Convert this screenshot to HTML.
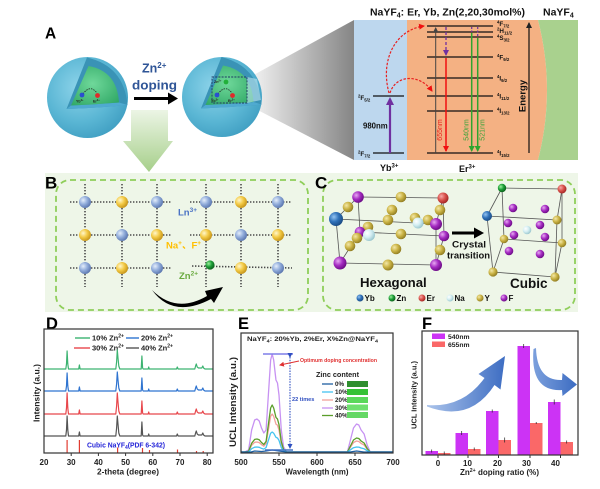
<!DOCTYPE html>
<html><head><meta charset="utf-8"><style>
html,body{margin:0;padding:0;background:#fff;}
svg{display:block;font-family:"Liberation Sans","Noto Sans CJK SC",sans-serif;font-weight:bold;}
</style></head><body>
<svg width="600" height="489" viewBox="0 0 600 489" xmlns="http://www.w3.org/2000/svg">
<defs>
<radialGradient id="sph" cx="0.4" cy="0.38" r="0.7"><stop offset="0" stop-color="#8ed4ea"/><stop offset="0.6" stop-color="#5ab6d4"/><stop offset="1" stop-color="#3d9cc0"/></radialGradient>
<radialGradient id="core" cx="0.45" cy="0.45" r="0.7"><stop offset="0" stop-color="#6fd89a"/><stop offset="1" stop-color="#30a866"/></radialGradient>
<linearGradient id="cone" x1="250" y1="0" x2="354" y2="0" gradientUnits="userSpaceOnUse"><stop offset="0" stop-color="#f4f4f4"/><stop offset="1" stop-color="#858585"/></linearGradient>
<linearGradient id="garrow" x1="0" y1="108" x2="0" y2="172" gradientUnits="userSpaceOnUse"><stop offset="0" stop-color="#eef6e8"/><stop offset="1" stop-color="#a6cf8a"/></linearGradient>
<linearGradient id="barrow1" x1="428" y1="0" x2="506" y2="0" gradientUnits="userSpaceOnUse"><stop offset="0" stop-color="#a9c2ea"/><stop offset="1" stop-color="#3c6cc2"/></linearGradient>
<linearGradient id="barrow2" x1="534" y1="0" x2="577" y2="0" gradientUnits="userSpaceOnUse"><stop offset="0" stop-color="#7b9fdc"/><stop offset="1" stop-color="#3c6cc2"/></linearGradient>
<radialGradient id="gB" cx="0.35" cy="0.35" r="0.7"><stop offset="0" stop-color="#e4eefb"/><stop offset="0.5" stop-color="#92addb"/><stop offset="1" stop-color="#5874ad"/></radialGradient>
<radialGradient id="gY" cx="0.35" cy="0.35" r="0.7"><stop offset="0" stop-color="#fff7cc"/><stop offset="0.5" stop-color="#f3ca45"/><stop offset="1" stop-color="#c39218"/></radialGradient>
<radialGradient id="gG" cx="0.35" cy="0.35" r="0.7"><stop offset="0" stop-color="#9cf09c"/><stop offset="0.5" stop-color="#1d9e38"/><stop offset="1" stop-color="#0a5c18"/></radialGradient>
<radialGradient id="gP" cx="0.35" cy="0.35" r="0.7"><stop offset="0" stop-color="#e7a8f2"/><stop offset="0.5" stop-color="#a52cc2"/><stop offset="1" stop-color="#690a82"/></radialGradient>
<radialGradient id="gO" cx="0.35" cy="0.35" r="0.7"><stop offset="0" stop-color="#f3e8a8"/><stop offset="0.5" stop-color="#cbb446"/><stop offset="1" stop-color="#8e7a20"/></radialGradient>
<radialGradient id="gR" cx="0.35" cy="0.35" r="0.7"><stop offset="0" stop-color="#f7a8a8"/><stop offset="0.5" stop-color="#d9534c"/><stop offset="1" stop-color="#a02222"/></radialGradient>
<radialGradient id="gYb" cx="0.35" cy="0.35" r="0.7"><stop offset="0" stop-color="#94c4f2"/><stop offset="0.5" stop-color="#2f71b9"/><stop offset="1" stop-color="#1a4a82"/></radialGradient>
<radialGradient id="gNa" cx="0.35" cy="0.35" r="0.7"><stop offset="0" stop-color="#ffffff"/><stop offset="0.5" stop-color="#d4eef2"/><stop offset="1" stop-color="#97c4cc"/></radialGradient>
<marker id="mK" markerWidth="6" markerHeight="6" refX="5" refY="3" orient="auto" markerUnits="userSpaceOnUse"><path d="M0,0 L6,3 L0,6 Z" fill="#222"/></marker>
<marker id="mGy" markerWidth="5" markerHeight="5" refX="4" refY="2.5" orient="auto" markerUnits="userSpaceOnUse"><path d="M0,0 L5,2.5 L0,5 Z" fill="#444"/></marker>
<marker id="mR" markerWidth="6" markerHeight="6" refX="5" refY="3" orient="auto" markerUnits="userSpaceOnUse"><path d="M0,0 L6,3 L0,6 Z" fill="#f01010"/></marker>
<marker id="mGn" markerWidth="6" markerHeight="6" refX="5" refY="3" orient="auto" markerUnits="userSpaceOnUse"><path d="M0,0 L6,3 L0,6 Z" fill="#2fa52f"/></marker>
<marker id="mP" markerWidth="6" markerHeight="6" refX="5" refY="3" orient="auto" markerUnits="userSpaceOnUse"><path d="M0,0 L6,3 L0,6 Z" fill="#7030a0"/></marker>
<marker id="mPb" markerWidth="8" markerHeight="8" refX="6" refY="4" orient="auto" markerUnits="userSpaceOnUse"><path d="M0,0 L8,4 L0,8 Z" fill="#7030a0"/></marker>
<marker id="mBl" markerWidth="5" markerHeight="5" refX="4" refY="2.5" orient="auto" markerUnits="userSpaceOnUse"><path d="M0,0 L5,2.5 L0,5 Z" fill="#2f4fc0"/></marker>
<marker id="mRs" markerWidth="5" markerHeight="5" refX="4" refY="2.5" orient="auto" markerUnits="userSpaceOnUse"><path d="M0,0 L5,2.5 L0,5 Z" fill="#e03030"/></marker>
</defs>

<!-- ============ PANEL A ============ -->
<text x="45" y="38.5" font-size="15.5" fill="#000">A</text>

<polygon points="250,77 354,20 354,160 250,106" fill="url(#cone)"/>

<!-- sphere 1 -->
<circle cx="87.5" cy="97.5" r="40.5" fill="url(#sph)"/>
<path d="M87,57.5 L66.5,109 Q97,108 127.5,105 Q124,66 87,57.5 Z" fill="#3a93b6"/>
<path d="M66.5,109 L71,105.5 Q95,104.5 119,102.5 L127.5,105 Q97,108 66.5,109 Z" fill="#4faad0"/>
<path d="M88.5,66 L71,105.5 Q95,104.5 119,102.5 Q117,71 88.5,66 Z" fill="url(#core)"/>
<path d="M83,94 Q90,84 97,93" fill="none" stroke="#222" stroke-width="0.8" stroke-dasharray="1.5,1"/>
<circle cx="82" cy="95" r="2.4" fill="#2a4fd0"/>
<circle cx="97.5" cy="95.5" r="2.4" fill="#e02a2a"/>
<text x="76" y="102.5" font-size="3.6" fill="#222">Yb<tspan font-size="2.6" dy="-1.3">3+</tspan></text>
<text x="93" y="102.5" font-size="3.6" fill="#222">Er<tspan font-size="2.6" dy="-1.3">3+</tspan></text>

<text x="142" y="72.5" font-size="12.5" fill="#2f5597">Zn<tspan font-size="8" dy="-4.5">2+</tspan></text>
<text x="132" y="89.5" font-size="13" fill="#2f5597" textLength="45" lengthAdjust="spacingAndGlyphs">doping</text>
<line x1="134" y1="98.5" x2="170" y2="98.5" stroke="#000" stroke-width="3"/>
<polygon points="168,92.5 178,98.5 168,104.5" fill="#000"/>

<polygon points="131,110 168,110 168,141 173,141 149,172 123,141 131,141" fill="url(#garrow)"/>

<!-- sphere 2 -->
<circle cx="222" cy="97" r="40" fill="url(#sph)"/>
<path d="M221.5,57 L201,108.5 Q231,107.5 261.5,104.5 Q258,66 221.5,57 Z" fill="#3a93b6"/>
<path d="M201,108.5 L205.5,105 Q229.5,104 253.5,102 L261.5,104.5 Q231,107.5 201,108.5 Z" fill="#4faad0"/>
<path d="M223,65.5 L205.5,105 Q229.5,104 253.5,102 Q251.5,70.5 223,65.5 Z" fill="url(#core)"/>
<polygon points="247,77 257,79 261,100 247,103" fill="#bfe6f0" opacity="0.6"/>
<rect x="212" y="77" width="35" height="26" fill="none" stroke="#1f3864" stroke-width="0.9" stroke-dasharray="2,1.2"/>
<text x="214" y="83" font-size="3.6" fill="#222">Zn<tspan font-size="2.6" dy="-1.3">2+</tspan></text>
<circle cx="226" cy="82" r="2.4" fill="#22b03a"/>
<path d="M218,94 Q225,84 232,93" fill="none" stroke="#222" stroke-width="0.8" stroke-dasharray="1.5,1"/>
<circle cx="217" cy="95" r="2.4" fill="#2a4fd0"/>
<circle cx="232.5" cy="95.5" r="2.4" fill="#e02a2a"/>
<text x="211" y="102" font-size="3.6" fill="#222">Yb<tspan font-size="2.6" dy="-1.3">3+</tspan></text>
<text x="228" y="102" font-size="3.6" fill="#222">Er<tspan font-size="2.6" dy="-1.3">3+</tspan></text>

<!-- energy diagram -->
<text x="370" y="15.5" font-size="10.4" fill="#111" textLength="155" lengthAdjust="spacingAndGlyphs">NaYF<tspan font-size="7" dy="2">4</tspan><tspan dy="-2">: Er, Yb, Zn(2,20,30mol%)</tspan></text>
<text x="543" y="15.5" font-size="10.5" fill="#111">NaYF<tspan font-size="7" dy="2">4</tspan></text>
<rect x="354" y="20" width="53" height="140" fill="#bdd7ee"/>
<path d="M407,20 L538,20 Q556,90 538,160 L407,160 Z" fill="#f4b183"/>
<path d="M538,20 L578,20 L578,160 L538,160 Q556,90 538,20 Z" fill="#a9d18e"/>

<line x1="373" y1="96" x2="404" y2="96" stroke="#111" stroke-width="1.3"/>
<line x1="373" y1="153" x2="404" y2="153" stroke="#111" stroke-width="1.3"/>
<text x="358" y="100" font-size="6.3" fill="#111"><tspan font-size="4.3" dy="-2.3">2</tspan><tspan dy="2.3">F</tspan><tspan font-size="4.3" dy="1.5">5/2</tspan></text>
<text x="358" y="156" font-size="6.3" fill="#111"><tspan font-size="4.3" dy="-2.3">2</tspan><tspan dy="2.3">F</tspan><tspan font-size="4.3" dy="1.5">7/2</tspan></text>
<line x1="390" y1="153" x2="390" y2="99" stroke="#7030a0" stroke-width="2.2" marker-end="url(#mPb)"/>
<text x="363" y="128.5" font-size="7.8" fill="#111">980nm</text>

<g stroke="#111" stroke-width="1.3">
<line x1="427" y1="26" x2="493" y2="26"/>
<line x1="427" y1="32" x2="493" y2="32"/>
<line x1="427" y1="37" x2="493" y2="37"/>
<line x1="427" y1="57" x2="493" y2="57"/>
<line x1="427" y1="78" x2="493" y2="78"/>
<line x1="427" y1="96" x2="493" y2="96"/>
<line x1="427" y1="111" x2="493" y2="111"/>
<line x1="427" y1="153" x2="493" y2="153"/>
</g>
<g font-size="6.3" fill="#111">
<text x="497" y="26"><tspan font-size="4.3" dy="-2.3">4</tspan><tspan dy="2.3">F</tspan><tspan font-size="4.3" dy="1.5">7/2</tspan></text>
<text x="497" y="33"><tspan font-size="4.3" dy="-2.3">2</tspan><tspan dy="2.3">H</tspan><tspan font-size="4.3" dy="1.5">11/2</tspan></text>
<text x="497" y="40"><tspan font-size="4.3" dy="-2.3">4</tspan><tspan dy="2.3">S</tspan><tspan font-size="4.3" dy="1.5">3/2</tspan></text>
<text x="497" y="59.5"><tspan font-size="4.3" dy="-2.3">4</tspan><tspan dy="2.3">F</tspan><tspan font-size="4.3" dy="1.5">9/2</tspan></text>
<text x="497" y="80.5"><tspan font-size="4.3" dy="-2.3">4</tspan><tspan dy="2.3">I</tspan><tspan font-size="4.3" dy="1.5">9/2</tspan></text>
<text x="497" y="98.5"><tspan font-size="4.3" dy="-2.3">4</tspan><tspan dy="2.3">I</tspan><tspan font-size="4.3" dy="1.5">11/2</tspan></text>
<text x="497" y="113"><tspan font-size="4.3" dy="-2.3">4</tspan><tspan dy="2.3">I</tspan><tspan font-size="4.3" dy="1.5">13/2</tspan></text>
<text x="497" y="155.5"><tspan font-size="4.3" dy="-2.3">4</tspan><tspan dy="2.3">I</tspan><tspan font-size="4.3" dy="1.5">15/2</tspan></text>
</g>
<line x1="435.7" y1="153" x2="435.7" y2="28" stroke="#444" stroke-width="1" marker-end="url(#mGy)"/>
<line x1="446" y1="27" x2="446" y2="55" stroke="#7030a0" stroke-width="1.3" stroke-dasharray="3,2" marker-end="url(#mP)"/>
<line x1="446" y1="58" x2="446" y2="151" stroke="#f01010" stroke-width="1.5" marker-end="url(#mR)"/>
<line x1="471.7" y1="27" x2="471.7" y2="32" stroke="#7030a0" stroke-width="1.2" stroke-dasharray="2,1.5"/>
<line x1="477.7" y1="27" x2="477.7" y2="36" stroke="#7030a0" stroke-width="1.2" stroke-dasharray="2,1.5"/>
<line x1="471.7" y1="33" x2="471.7" y2="151" stroke="#2fa52f" stroke-width="1.5" marker-end="url(#mGn)"/>
<line x1="477.7" y1="38" x2="477.7" y2="151" stroke="#2fa52f" stroke-width="1.5" marker-end="url(#mGn)"/>
<text transform="translate(442,130) rotate(-90)" text-anchor="middle" font-size="7" font-weight="normal" fill="#e8201a">655nm</text>
<text transform="translate(468.5,130) rotate(-90)" text-anchor="middle" font-size="7" font-weight="normal" fill="#3aa23a">540nm</text>
<text transform="translate(484.5,130) rotate(-90)" text-anchor="middle" font-size="7" font-weight="normal" fill="#3aa23a">521nm</text>
<path d="M389,93 C380,60 395,30 424,26" fill="none" stroke="#e82020" stroke-width="1.2" stroke-dasharray="2.5,1.5" marker-end="url(#mR)"/>
<path d="M390,93 C396,74 420,74 432,91" fill="none" stroke="#e82020" stroke-width="1.2" stroke-dasharray="2.5,1.5" marker-end="url(#mR)"/>
<line x1="529" y1="153" x2="529" y2="23" stroke="#111" stroke-width="1.2" marker-end="url(#mK)"/>
<text transform="translate(525.5,96) rotate(-90)" text-anchor="middle" font-size="9.5" fill="#111">Energy</text>
<text x="380" y="171" font-size="9" fill="#111">Yb<tspan font-size="6" dy="-3.5">3+</tspan></text>
<text x="459" y="172" font-size="9" fill="#111">Er<tspan font-size="6" dy="-3.5">3+</tspan></text>

<!-- ============ PANELS B & C ============ -->
<rect x="45" y="173" width="533" height="139" fill="#eef6e8"/>
<rect x="56" y="180" width="252" height="130" rx="14" fill="none" stroke="#8fce5a" stroke-width="1.8" stroke-dasharray="6,4"/>
<rect x="323" y="180" width="252" height="130" rx="14" fill="none" stroke="#8fce5a" stroke-width="1.8" stroke-dasharray="6,4"/>
<text x="45" y="188.5" font-size="17" fill="#000">B</text>
<text x="315" y="188.5" font-size="17" fill="#000">C</text>

<g stroke="#4a4a4a" stroke-width="1.6" stroke-dasharray="1.4,1.6">
<line x1="70" y1="202" x2="172" y2="202"/><line x1="70" y1="235" x2="172" y2="235"/><line x1="70" y1="268" x2="172" y2="268"/>
<line x1="190" y1="202" x2="292" y2="202"/><line x1="190" y1="235" x2="292" y2="235"/><line x1="192" y1="266" x2="292" y2="268"/>
<line x1="85" y1="184" x2="85" y2="287"/><line x1="122" y1="184" x2="122" y2="287"/><line x1="157" y1="184" x2="157" y2="287"/>
<line x1="206" y1="184" x2="206" y2="287"/><line x1="241" y1="184" x2="241" y2="287"/><line x1="278" y1="184" x2="278" y2="287"/>
</g>
<g>
<circle cx="85" cy="202" r="6" fill="url(#gB)"/><circle cx="122" cy="202" r="6" fill="url(#gY)"/><circle cx="157" cy="202" r="6" fill="url(#gB)"/>
<circle cx="206" cy="202" r="6" fill="url(#gB)"/><circle cx="241" cy="202" r="6" fill="url(#gY)"/><circle cx="278" cy="202" r="6" fill="url(#gB)"/>
<circle cx="85" cy="235" r="6" fill="url(#gY)"/><circle cx="122" cy="235" r="6" fill="url(#gB)"/><circle cx="157" cy="235" r="6" fill="url(#gY)"/>
<circle cx="206" cy="235" r="6" fill="url(#gY)"/><circle cx="241" cy="235" r="6" fill="url(#gB)"/><circle cx="278" cy="235" r="6" fill="url(#gY)"/>
<circle cx="85" cy="268" r="6" fill="url(#gB)"/><circle cx="122" cy="268" r="6" fill="url(#gY)"/><circle cx="157" cy="268" r="6" fill="url(#gB)"/>
<circle cx="210" cy="265" r="4.6" fill="url(#gG)"/><circle cx="241" cy="268" r="6" fill="url(#gY)"/><circle cx="278" cy="268" r="6" fill="url(#gB)"/>
</g>
<text x="178" y="215.5" font-size="9.5" fill="#4a72c4">Ln<tspan font-size="6.5" dy="-3.5">3+</tspan></text>
<text x="166" y="248.5" font-size="9.5" fill="#ffbf00">Na<tspan font-size="6.5" dy="-3.5">+</tspan><tspan dy="3.5">、F</tspan><tspan font-size="6.5" dy="-3.5">+</tspan></text>
<text x="179" y="279" font-size="9.5" fill="#6aaa40">Zn<tspan font-size="6.5" dy="-3.5">2+</tspan></text>
<path d="M152,290 Q176,314 207,296 L205,291 L223,287 L214,303 L211,299 Q173,319 152,290 Z" fill="#000"/>

<g stroke="#555" stroke-width="0.8" fill="none">
<line x1="358" y1="197" x2="443" y2="198"/>
<line x1="358" y1="197" x2="336" y2="219"/>
<line x1="336" y1="219" x2="436" y2="224"/>
<line x1="443" y1="198" x2="436" y2="224"/>
<line x1="336" y1="219" x2="340" y2="263"/>
<line x1="436" y1="224" x2="436" y2="265"/>
<line x1="340" y1="263" x2="436" y2="265"/>
<line x1="358" y1="197" x2="360" y2="232"/>
<line x1="443" y1="198" x2="444" y2="236"/>
<line x1="360" y1="232" x2="444" y2="236"/>
<line x1="360" y1="232" x2="340" y2="263"/>
<line x1="444" y1="236" x2="436" y2="265"/>
</g>
<g>
<circle cx="358" cy="197" r="5.8" fill="url(#gP)"/>
<circle cx="401" cy="197" r="5.3" fill="url(#gO)"/>
<circle cx="443" cy="198" r="5.5" fill="url(#gR)"/>
<circle cx="348" cy="207" r="5.3" fill="url(#gO)"/>
<circle cx="392" cy="210" r="5.3" fill="url(#gO)"/>
<circle cx="440" cy="210" r="5.3" fill="url(#gO)"/>
<circle cx="388" cy="220" r="5.3" fill="url(#gO)"/>
<circle cx="415" cy="218" r="5.3" fill="url(#gO)"/>
<circle cx="428" cy="220" r="5.3" fill="url(#gO)"/>
<circle cx="418" cy="223" r="5.5" fill="url(#gNa)"/>
<circle cx="336" cy="219" r="7" fill="url(#gYb)"/>
<circle cx="436" cy="224" r="6" fill="url(#gP)"/>
<circle cx="368" cy="227" r="5.3" fill="url(#gO)"/>
<circle cx="360" cy="232" r="5.3" fill="url(#gP)"/>
<circle cx="401" cy="234" r="5.3" fill="url(#gO)"/>
<circle cx="444" cy="236" r="5.3" fill="url(#gP)"/>
<circle cx="369" cy="235" r="6" fill="url(#gNa)"/>
<circle cx="357" cy="238" r="5.3" fill="url(#gO)"/>
<circle cx="350" cy="246" r="5.3" fill="url(#gO)"/>
<circle cx="396" cy="249" r="5.3" fill="url(#gO)"/>
<circle cx="440" cy="250" r="5.3" fill="url(#gO)"/>
<circle cx="340" cy="263" r="6.5" fill="url(#gP)"/>
<circle cx="388" cy="265" r="5.5" fill="url(#gO)"/>
<circle cx="436" cy="265" r="6" fill="url(#gP)"/>
</g>
<line x1="452" y1="233" x2="476" y2="233" stroke="#000" stroke-width="3"/>
<polygon points="474,227.5 484,233 474,238.5" fill="#000"/>
<text x="452" y="247.5" font-size="8.8" fill="#111" textLength="34" lengthAdjust="spacingAndGlyphs">Crystal</text>
<text x="447" y="258.5" font-size="8.8" fill="#111" textLength="43" lengthAdjust="spacingAndGlyphs">transition</text>

<g stroke="#555" stroke-width="0.8" fill="none">
<line x1="502" y1="188" x2="562" y2="189"/>
<line x1="487" y1="216" x2="502" y2="188"/>
<line x1="487" y1="216" x2="557" y2="220"/>
<line x1="562" y1="189" x2="557" y2="220"/>
<line x1="562" y1="189" x2="562" y2="243"/>
<line x1="502" y1="188" x2="504" y2="239"/>
<line x1="504" y1="239" x2="562" y2="243"/>
<line x1="487" y1="216" x2="493" y2="272"/>
<line x1="557" y1="220" x2="555" y2="277"/>
<line x1="493" y1="272" x2="555" y2="277"/>
<line x1="504" y1="239" x2="493" y2="272"/>
<line x1="562" y1="243" x2="555" y2="277"/>
</g>
<g>
<circle cx="502" cy="188" r="4.2" fill="url(#gG)"/>
<circle cx="562" cy="189" r="4.5" fill="url(#gR)"/>
<circle cx="513" cy="208" r="4.3" fill="url(#gP)"/>
<circle cx="545" cy="209" r="4.3" fill="url(#gP)"/>
<circle cx="504" cy="239" r="4.3" fill="url(#gO)"/>
<circle cx="562" cy="243" r="4.3" fill="url(#gO)"/>
<circle cx="487" cy="216" r="5" fill="url(#gYb)"/>
<circle cx="557" cy="220" r="4.5" fill="url(#gO)"/>
<circle cx="508" cy="223" r="4.3" fill="url(#gP)"/>
<circle cx="540" cy="225" r="4.3" fill="url(#gP)"/>
<circle cx="527" cy="230" r="4.3" fill="url(#gNa)"/>
<circle cx="514" cy="235" r="4.3" fill="url(#gP)"/>
<circle cx="545" cy="237" r="4.3" fill="url(#gP)"/>
<circle cx="509" cy="251" r="4.3" fill="url(#gP)"/>
<circle cx="540" cy="254" r="4.3" fill="url(#gP)"/>
<circle cx="493" cy="272" r="4.6" fill="url(#gO)"/>
<circle cx="555" cy="277" r="4.6" fill="url(#gO)"/>
</g>
<text x="360" y="287" font-size="13.2" fill="#111">Hexagonal</text>
<text x="510" y="288" font-size="13.5" fill="#111">Cubic</text>
<g font-size="8" fill="#111">
<circle cx="360" cy="298" r="3.5" fill="url(#gYb)"/><text x="364.5" y="301">Yb</text>
<circle cx="392" cy="298" r="3.5" fill="url(#gG)"/><text x="396.5" y="301">Zn</text>
<circle cx="422" cy="298" r="3.5" fill="url(#gR)"/><text x="426.5" y="301">Er</text>
<circle cx="450" cy="298" r="3.5" fill="url(#gNa)"/><text x="454.5" y="301">Na</text>
<circle cx="480" cy="298" r="3.5" fill="url(#gO)"/><text x="484.5" y="301">Y</text>
<circle cx="504" cy="298" r="3.5" fill="url(#gP)"/><text x="508.5" y="301">F</text>
</g>

<!-- ============ PANEL D ============ -->
<text x="46" y="329" font-size="16.5" fill="#000">D</text>
<g font-size="7.5" fill="#222">
<line x1="75" y1="338" x2="90" y2="338" stroke="#3cb371" stroke-width="1.4"/><text x="92" y="340.5">10% Zn<tspan font-size="5" dy="-3">2+</tspan></text>
<line x1="126" y1="338" x2="139" y2="338" stroke="#2f74d0" stroke-width="1.4"/><text x="141" y="340.5">20% Zn<tspan font-size="5" dy="-3">2+</tspan></text>
<line x1="74" y1="348" x2="90" y2="348" stroke="#e8474c" stroke-width="1.4"/><text x="92" y="350.5">30% Zn<tspan font-size="5" dy="-3">2+</tspan></text>
<line x1="126" y1="348" x2="139" y2="348" stroke="#555" stroke-width="1.4"/><text x="141" y="350.5">40% Zn<tspan font-size="5" dy="-3">2+</tspan></text>
</g>
<g fill="none" stroke-width="1.2" stroke-linejoin="round">
<path transform="translate(0,369)" stroke="#3cb371" d="M44,0 L65.8,0 L66.5,-5 L67.1,-18 L67.8,-5 L68.5,0 L78.7,0 L79.4,-4 L80.1,0 L115.8,0 L116.6,-7 L117.3,-19 L118,-11 L118.8,-3 L119.8,0 L141.2,0 L141.9,-13 L142.6,-1 L143.2,0 L148.2,0 L148.7,-2 L149.3,0 L176.5,0 L177.3,-2 L178.1,0 L194.8,0 L195.6,-3 L196.3,-5 L197.2,-2 L198.5,-1 L201.8,-1 L202.8,-3 L203.6,-1 L205,0 L213,0"/>
<path transform="translate(0,391)" stroke="#2f74d0" d="M44,0 L65.8,0 L66.5,-5 L67.1,-18 L67.8,-5 L68.5,0 L78.7,0 L79.4,-4 L80.1,0 L115.8,0 L116.6,-7 L117.3,-19 L118,-11 L118.8,-3 L119.8,0 L141.2,0 L141.9,-13 L142.6,-1 L143.2,0 L148.2,0 L148.7,-2 L149.3,0 L176.5,0 L177.3,-2 L178.1,0 L194.8,0 L195.6,-3 L196.3,-5 L197.2,-2 L198.5,-1 L201.8,-1 L202.8,-3 L203.6,-1 L205,0 L213,0"/>
<path transform="translate(0,414)" stroke="#e8474c" d="M44,0 L65.8,0 L66.5,-6 L67.1,-21 L67.8,-6 L68.5,0 L78.7,0 L79.4,-4 L80.1,0 L115.8,0 L116.6,-8 L117.3,-21 L118,-12 L118.8,-3 L119.8,0 L141.2,0 L141.9,-13 L142.6,-1 L143.2,0 L148.2,0 L148.7,-2 L149.3,0 L176.5,0 L177.3,-2 L178.1,0 L194.8,0 L195.6,-3 L196.3,-5 L197.2,-2 L198.5,-1 L201.8,-1 L202.8,-3 L203.6,-1 L205,0 L213,0"/>
<path transform="translate(0,436)" stroke="#555555" d="M44,0 L65.8,0 L66.5,-6 L67.1,-20 L67.8,-6 L68.5,0 L78.7,0 L79.4,-4 L80.1,0 L115.8,0 L116.6,-8 L117.3,-20 L118,-12 L118.8,-3 L119.8,0 L141.2,0 L141.9,-14 L142.6,-1 L143.2,0 L148.2,0 L148.7,-2 L149.3,0 L176.5,0 L177.3,-2 L178.1,0 L194.8,0 L195.6,-3 L196.3,-5 L197.2,-2 L198.5,-1 L201.8,-1 L202.8,-3 L203.6,-1 L205,0 L213,0"/>
</g>
<g stroke="#e03c31" stroke-width="1.2">
<line x1="67.1" y1="453" x2="67.1" y2="440"/><line x1="79.4" y1="453" x2="79.4" y2="440"/>
<line x1="117.6" y1="453" x2="117.6" y2="447.5"/><line x1="142.5" y1="453" x2="142.5" y2="448"/>
<line x1="149.5" y1="453" x2="149.5" y2="450"/><line x1="177.5" y1="453" x2="177.5" y2="449.5"/>
<line x1="196.5" y1="453" x2="196.5" y2="451"/><line x1="203.2" y1="453" x2="203.2" y2="451"/>
</g>
<text x="87" y="447.5" font-size="7.2" fill="#2424d8" textLength="78" lengthAdjust="spacingAndGlyphs">Cubic NaYF<tspan font-size="5" dy="1.5">4</tspan><tspan dy="-1.5">(PDF 6-342)</tspan></text>
<rect x="44" y="329" width="169" height="124" fill="none" stroke="#333" stroke-width="1.2"/>
<g stroke="#333" stroke-width="1">
<line x1="71.2" y1="453" x2="71.2" y2="456"/><line x1="98.4" y1="453" x2="98.4" y2="456"/><line x1="125.6" y1="453" x2="125.6" y2="456"/><line x1="152.8" y1="453" x2="152.8" y2="456"/><line x1="180" y1="453" x2="180" y2="456"/><line x1="207.2" y1="453" x2="207.2" y2="456"/>
</g>
<g font-size="8" fill="#222" text-anchor="middle">
<text x="44" y="465">20</text><text x="71.2" y="465">30</text><text x="98.4" y="465">40</text><text x="125.6" y="465">50</text><text x="152.8" y="465">60</text><text x="180" y="465">70</text><text x="207.2" y="465">80</text>
</g>
<text x="128" y="474.5" font-size="8.5" fill="#222" text-anchor="middle" textLength="62" lengthAdjust="spacingAndGlyphs">2-theta (degree)</text>
<text transform="translate(39.5,393) rotate(-90)" font-size="8" fill="#222" text-anchor="middle" textLength="58" lengthAdjust="spacingAndGlyphs">Intensity (a.u.)</text>

<!-- ============ PANEL E ============ -->
<text x="238" y="329" font-size="16.5" fill="#000">E</text>
<text x="247" y="341" font-size="6.8" fill="#222" textLength="131" lengthAdjust="spacingAndGlyphs">NaYF<tspan font-size="4.8" dy="1.5">4</tspan><tspan dy="-1.5">: 20%Yb, 2%Er, X%Zn@NaYF</tspan><tspan font-size="4.8" dy="1.5">4</tspan></text>
<g fill="none" stroke-width="1.3" stroke-linejoin="round">
<polyline stroke="#c792f2" points="241,452 244.8,452 248.6,450 251.64,430 254.68,420 256.96,419 259.24,421 261.52,428 263.8,433 266.08,430 268.36,395 270.64,360 272.16,354 273.68,360 275.96,380 277.48,383 279,395 281.28,430 283.56,447 286.6,452 347.4,452 350.44,440 353.48,428 356.52,424 358.8,425 361.08,430 364.12,434 367.16,445 370.2,452 393,452"/>
<polyline stroke="#f2a09c" points="241,452 244.8,452 248.6,451.4 251.64,445.3 254.68,442.3 256.96,442 259.24,442.6 261.52,444.7 263.8,446.2 266.08,443.5 268.36,430 270.64,416.3 272.16,414 273.68,416.3 275.96,424.1 277.48,425.2 279,430 281.28,443.5 283.56,450.1 286.6,452 347.4,452 350.44,447.3 353.48,442.6 356.52,441 358.8,441.5 361.08,443.4 364.12,445 367.16,449.3 370.2,452 393,452"/>
<polyline stroke="#5a9e2a" points="241,452 244.8,452 248.6,451.2 251.64,443.3 254.68,439.4 256.96,439 259.24,439.8 261.52,442.5 263.8,444.5 266.08,441.4 268.36,424.6 270.64,408 272.16,405 273.68,408 275.96,417.4 277.48,419 279,424.6 281.28,441.4 283.56,449.6 286.6,452 347.4,452 350.44,446 353.48,440 356.52,438 358.8,438.5 361.08,441 364.12,443 367.16,448.5 370.2,452 393,452"/>
<polyline stroke="#45c4f0" points="241,452 248.6,452 251.64,448.7 254.68,447.2 256.96,447 259.24,447.3 261.52,448.4 263.8,449.1 266.08,447.5 268.36,440.4 270.64,433.2 272.16,432 273.68,433.2 275.96,437.3 277.48,438 279,440.4 281.28,447.5 283.56,451 286.6,452 347.4,452 350.44,449.8 353.48,447.7 356.52,447 358.8,447.1 361.08,448 364.12,448.8 367.16,450.7 370.2,452 393,452"/>
<polyline stroke="#1f5fa0" points="241,452 251,452 254.68,451 261.52,451.5 266.08,451 272.16,450 279,451 286.6,452 350,452 356.52,451 364,452 393,452"/>
</g>
<line x1="263" y1="354" x2="293" y2="354" stroke="#7f7fe8" stroke-width="1.5"/>
<line x1="265" y1="450" x2="293" y2="450" stroke="#4472c4" stroke-width="1.5"/>
<line x1="290" y1="357" x2="290" y2="448" stroke="#2f4fc0" stroke-width="1.1" stroke-dasharray="1.5,1.2" marker-start="url(#mBl)" marker-end="url(#mBl)"/>
<text x="292" y="401" font-size="5.6" fill="#2f4fc0">22 times</text>
<line x1="299" y1="361" x2="280" y2="365" stroke="#e03030" stroke-width="0.9" marker-end="url(#mRs)"/>
<text x="300" y="362" font-size="5.5" fill="#e03030" textLength="77" lengthAdjust="spacingAndGlyphs">Optimum doping concentration</text>
<text x="316" y="377" font-size="7" fill="#222" textLength="43" lengthAdjust="spacingAndGlyphs">Zinc content</text>
<g font-size="6.3" fill="#222">
<line x1="322" y1="384" x2="333" y2="384" stroke="#1f5fa0" stroke-width="1.3"/><text x="335" y="386">0%</text>
<line x1="322" y1="392" x2="333" y2="392" stroke="#45c4f0" stroke-width="1.3"/><text x="335" y="394">10%</text>
<line x1="322" y1="400" x2="333" y2="400" stroke="#f2a09c" stroke-width="1.3"/><text x="335" y="402">20%</text>
<line x1="322" y1="408" x2="333" y2="408" stroke="#c792f2" stroke-width="1.3"/><text x="335" y="410">30%</text>
<line x1="322" y1="415.5" x2="333" y2="415.5" stroke="#5a9e2a" stroke-width="1.3"/><text x="335" y="417.5">40%</text>
</g>
<rect x="347" y="381" width="21" height="6" fill="#2f8f2f"/>
<rect x="347" y="389" width="21" height="6" fill="#35c235"/>
<rect x="347" y="397" width="21" height="6" fill="#5ad85a"/>
<rect x="347" y="404.5" width="21" height="6" fill="#6fe06f"/>
<rect x="347" y="412" width="21" height="6" fill="#64d864"/>
<rect x="241" y="333" width="152" height="120" fill="none" stroke="#333" stroke-width="1.2"/>
<g stroke="#333" stroke-width="1">
<line x1="279" y1="453" x2="279" y2="456"/><line x1="317" y1="453" x2="317" y2="456"/><line x1="355" y1="453" x2="355" y2="456"/>
</g>
<g font-size="8" fill="#222" text-anchor="middle">
<text x="241" y="465">500</text><text x="279" y="465">550</text><text x="317" y="465">600</text><text x="355" y="465">650</text><text x="393" y="465">700</text>
</g>
<text x="317" y="474.5" font-size="8.5" fill="#222" text-anchor="middle" textLength="63" lengthAdjust="spacingAndGlyphs">Wavelength (nm)</text>
<text transform="translate(236,402) rotate(-90)" font-size="9" fill="#222" text-anchor="middle" textLength="90" lengthAdjust="spacingAndGlyphs">UCL Intensity (a.u.)</text>

<!-- ============ PANEL F ============ -->
<text x="422" y="329" font-size="16.5" fill="#000">F</text>
<rect x="432" y="333.5" width="13" height="5.5" fill="#cc33f5"/><text x="448" y="339" font-size="6.8" fill="#222">540nm</text>
<rect x="432" y="341.5" width="13" height="5.5" fill="#fa6868"/><text x="448" y="347" font-size="6.8" fill="#222">655nm</text>
<g fill="#cc33f5">
<rect x="425.5" y="451" width="12.5" height="4"/>
<rect x="455.5" y="433" width="12.5" height="22"/>
<rect x="486" y="411" width="12.5" height="44"/>
<rect x="517.5" y="346" width="12.5" height="109"/>
<rect x="548" y="402" width="12.5" height="53"/>
</g>
<g fill="#fa6868">
<rect x="438" y="453" width="12.5" height="2"/>
<rect x="468" y="449" width="12.5" height="6"/>
<rect x="498.5" y="440" width="12.5" height="15"/>
<rect x="530" y="423" width="12.5" height="32"/>
<rect x="560.5" y="442" width="12.5" height="13"/>
</g>
<g stroke="#222" stroke-width="0.7">
<line x1="431.7" y1="449.5" x2="431.7" y2="452.5"/><line x1="444.2" y1="451.5" x2="444.2" y2="454.5"/>
<line x1="461.7" y1="431" x2="461.7" y2="435"/><line x1="474.2" y1="447.5" x2="474.2" y2="450.5"/>
<line x1="492.2" y1="409.5" x2="492.2" y2="412.5"/><line x1="504.7" y1="437.5" x2="504.7" y2="442.5"/>
<line x1="523.7" y1="344" x2="523.7" y2="348"/><line x1="536.2" y1="422" x2="536.2" y2="424"/>
<line x1="554.2" y1="399.5" x2="554.2" y2="404.5"/><line x1="566.7" y1="440.5" x2="566.7" y2="443.5"/>
</g>
<path d="M427,405 Q463,408 484.5,378 L478.5,374 L505,356 L500.5,389.5 L494.5,385 Q470,423 427,406.5 Z" fill="url(#barrow1)"/>
<path d="M536,348 Q537,381 562,380 L562.5,373 L577,384.5 L562.5,396 L562,390 Q530,392 533.5,349 Z" fill="url(#barrow2)"/>
<rect x="422" y="331" width="156" height="124" fill="none" stroke="#333" stroke-width="1.2"/>
<g stroke="#333" stroke-width="1">
<line x1="438" y1="455" x2="438" y2="458"/><line x1="468" y1="455" x2="468" y2="458"/><line x1="498.5" y1="455" x2="498.5" y2="458"/><line x1="530" y1="455" x2="530" y2="458"/><line x1="560.5" y1="455" x2="560.5" y2="458"/>
</g>
<g font-size="8" fill="#222" text-anchor="middle">
<text x="438" y="466">0</text><text x="467.5" y="466">10</text><text x="497.5" y="466">20</text><text x="526.5" y="466">30</text><text x="555.5" y="466">40</text>
</g>
<text x="460" y="475" font-size="8.5" fill="#222" textLength="79" lengthAdjust="spacingAndGlyphs">Zn<tspan font-size="5.5" dy="-3">2+</tspan><tspan dy="3"> doping ratio (%)</tspan></text>
<text transform="translate(416.5,395) rotate(-90)" font-size="7.5" fill="#222" text-anchor="middle" textLength="68" lengthAdjust="spacingAndGlyphs">UCL Intensity (a.u.)</text>
</svg>
</body></html>
